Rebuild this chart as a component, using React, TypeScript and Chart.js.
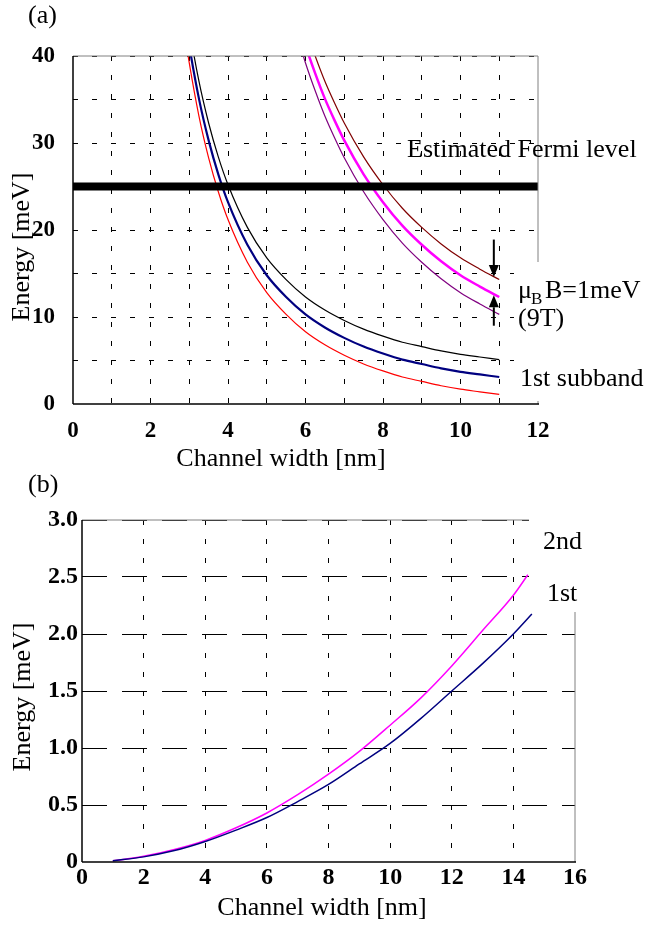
import React, { useEffect, useRef } from 'react';
import { Chart, registerables } from 'chart.js';

Chart.register(...registerables);

const SERIF = '"Liberation Serif", "Times New Roman", serif';

// ---------- Panel (a) data ----------
const widthA1 = [2.9, 3.0, 3.25, 3.5, 3.75, 4, 4.5, 5, 5.5, 6, 6.5, 7, 7.5, 8, 8.5, 9, 9.5, 10, 10.5, 11];
const firstRed = [42.1, 39.2, 33.1, 28.3, 24.4, 21.2, 16.3, 12.8, 10.3, 8.3, 6.8, 5.6, 4.6, 3.8, 3.1, 2.6, 2.1, 1.7, 1.4, 1.1];
const firstBlue = [44.1, 41.2, 35.1, 30.3, 26.4, 23.2, 18.3, 14.8, 12.3, 10.3, 8.8, 7.6, 6.6, 5.8, 5.1, 4.6, 4.1, 3.7, 3.4, 3.1];
const firstBlack = [46.1, 43.2, 37.1, 32.3, 28.4, 25.2, 20.3, 16.8, 14.3, 12.3, 10.8, 9.6, 8.6, 7.8, 7.1, 6.6, 6.1, 5.7, 5.4, 5.1];

const widthA2 = [5.8, 6.0, 6.25, 6.5, 6.75, 7, 7.5, 8, 8.5, 9, 9.5, 10, 10.5, 11];
const secondPurple = [42.1, 39.2, 36.0, 33.1, 30.6, 28.3, 24.4, 21.2, 18.5, 16.3, 14.4, 12.8, 11.5, 10.3];
const secondMagenta = [44.1, 41.2, 38.0, 35.1, 32.6, 30.3, 26.4, 23.2, 20.5, 18.3, 16.4, 14.8, 13.5, 12.3];
const secondBrown = [46.1, 43.2, 40.0, 37.1, 34.6, 32.3, 28.4, 25.2, 22.5, 20.3, 18.4, 16.8, 15.5, 14.3];

const fermiWidths = [0, 12];
const fermiLevel = [25, 25];

const xTickLabelsA = ['0', '', '2', '', '4', '', '6', '', '8', '', '10', '', '12'];
const yTickLabelsA = ['0', '', '10', '', '20', '', '30', '', '40'];

const arrowWidth = 10.86;
const arrowDown = [18.9, 14.6];
const arrowUp = [9.0, 12.5];

// ---------- Panel (b) data ----------
const widthB1 = [1, 2, 3, 4, 5, 6, 7, 8, 9, 10, 11, 12, 13, 14, 14.6];
const lowerBlue = [0.01, 0.045, 0.10, 0.18, 0.28, 0.39, 0.53, 0.68, 0.86, 1.04, 1.26, 1.50, 1.74, 2.00, 2.175];
const widthB2 = [1, 2, 3, 4, 5, 6, 7, 8, 9, 10, 11, 12, 13, 14, 14.47];
const upperMagenta = [0.01, 0.05, 0.11, 0.19, 0.30, 0.43, 0.59, 0.77, 0.97, 1.20, 1.44, 1.72, 2.03, 2.34, 2.52];

const xTickLabelsB = ['0', '2', '4', '6', '8', '10', '12', '14', '16'];
const yTickLabelsB = ['0', '0.5', '1.0', '1.5', '2.0', '2.5', '3.0'];

const zip = (xs: number[], ys: number[]) => xs.map((x, i) => ({ x, y: ys[i] }));

function line(ctx: CanvasRenderingContext2D, x1: number, y1: number, x2: number, y2: number) {
  ctx.beginPath();
  ctx.moveTo(x1, y1);
  ctx.lineTo(x2, y2);
  ctx.stroke();
}

function arrow(ctx: CanvasRenderingContext2D, x: number, yFrom: number, yTo: number) {
  const dir = yTo > yFrom ? 1 : -1;
  const headLen = 12;
  const halfW = 5;
  ctx.lineWidth = 2;
  line(ctx, x, yFrom, x, yTo - dir * headLen);
  ctx.beginPath();
  ctx.moveTo(x, yTo);
  ctx.lineTo(x - halfW, yTo - dir * headLen);
  ctx.lineTo(x + halfW, yTo - dir * headLen);
  ctx.closePath();
  ctx.fill();
}

const panelAOverlay = {
  id: 'panelAOverlay',
  afterDraw(chart: any) {
    const { ctx, chartArea: ca, scales } = chart;
    ctx.save();
    ctx.setLineDash([]);
    ctx.strokeStyle = '#808080';
    ctx.lineWidth = 1;
    line(ctx, ca.left, ca.top, ca.right, ca.top);
    line(ctx, ca.right, ca.top, ca.right, ca.bottom);
    ctx.strokeStyle = '#000';
    ctx.lineWidth = 1.5;
    line(ctx, ca.left, ca.top, ca.left, ca.bottom);
    line(ctx, ca.left, ca.bottom, ca.right + 1, ca.bottom);

    ctx.fillStyle = '#fff';
    ctx.fillRect(514, 262, 133, 139);

    ctx.fillStyle = '#000';
    ctx.textBaseline = 'alphabetic';
    ctx.textAlign = 'left';
    ctx.font = `26px ${SERIF}`;
    ctx.fillText('(a)', 28, 23);
    ctx.fillText('Estimated Fermi level', 407, 157);
    ctx.fillText('\u03bc', 518, 298);
    ctx.fillText('B=1meV', 545, 298);
    ctx.fillText('(9T)', 518, 326);
    ctx.fillText('1st subband', 520, 386);
    ctx.font = `17px ${SERIF}`;
    ctx.fillText('B', 531, 304);

    ctx.font = `26px ${SERIF}`;
    ctx.textAlign = 'center';
    ctx.textBaseline = 'middle';
    ctx.fillText('Channel width [nm]', 281, 459);
    ctx.save();
    ctx.translate(22, 247);
    ctx.rotate(-Math.PI / 2);
    ctx.fillText('Energy [meV]', 0, 0);
    ctx.restore();

    const ax = scales.x.getPixelForValue(arrowWidth);
    ctx.strokeStyle = '#000';
    arrow(ctx, ax, scales.y.getPixelForValue(arrowDown[0]), scales.y.getPixelForValue(arrowDown[1]));
    arrow(ctx, ax, scales.y.getPixelForValue(arrowUp[0]), scales.y.getPixelForValue(arrowUp[1]));
    ctx.restore();
  },
};

const panelBOverlay = {
  id: 'panelBOverlay',
  afterDraw(chart: any) {
    const { ctx, chartArea: ca } = chart;
    ctx.save();
    ctx.setLineDash([]);
    ctx.strokeStyle = '#808080';
    ctx.lineWidth = 1;
    line(ctx, ca.left, ca.top, ca.right, ca.top);
    line(ctx, ca.right, ca.top, ca.right, ca.bottom);
    ctx.strokeStyle = '#000';
    ctx.lineWidth = 1.5;
    line(ctx, ca.left, ca.top, ca.left, ca.bottom);
    line(ctx, ca.left, ca.bottom, ca.right + 1, ca.bottom);

    ctx.fillStyle = '#fff';
    ctx.fillRect(529, 28, 118, 114);

    ctx.fillStyle = '#000';
    ctx.textBaseline = 'alphabetic';
    ctx.textAlign = 'left';
    ctx.font = `26px ${SERIF}`;
    ctx.fillText('(b)', 28, 22);
    ctx.fillText('2nd', 543, 79);
    ctx.fillText('1st', 547, 131);

    ctx.textAlign = 'center';
    ctx.textBaseline = 'middle';
    ctx.fillText('Channel width [nm]', 322, 438);
    ctx.save();
    ctx.translate(23, 227);
    ctx.rotate(-Math.PI / 2);
    ctx.fillText('Energy [meV]', 0, 0);
    ctx.restore();
    ctx.restore();
  },
};

const tickFont = (size: number) => ({ family: SERIF, size, weight: 'bold' as const });

function lineDs(label: string, xs: number[], ys: number[], color: string, width: number, order: number) {
  return {
    label,
    data: zip(xs, ys),
    borderColor: color,
    backgroundColor: color,
    borderWidth: width,
    pointRadius: 0,
    fill: false,
    cubicInterpolationMode: 'monotone' as const,
    order,
  };
}

export default function App() {
  const refA = useRef<HTMLCanvasElement>(null);
  const refB = useRef<HTMLCanvasElement>(null);

  useEffect(() => {
    const chartA = new Chart(refA.current!, {
      type: 'line',
      data: {
        datasets: [
          { ...lineDs('Estimated Fermi level', fermiWidths, fermiLevel, '#000000', 8, 0), cubicInterpolationMode: 'default' as const },
          lineDs('1st subband (low)', widthA1, firstRed, '#ff0000', 1.2, 1),
          lineDs('1st subband', widthA1, firstBlue, '#000080', 2.2, 1),
          lineDs('1st subband (high)', widthA1, firstBlack, '#000000', 1.2, 1),
          lineDs('2nd subband (low)', widthA2, secondPurple, '#800080', 1.2, 1),
          lineDs('2nd subband', widthA2, secondMagenta, '#ff00ff', 2.5, 1),
          lineDs('2nd subband (high)', widthA2, secondBrown, '#800000', 1.2, 1),
        ],
      },
      options: {
        responsive: false,
        maintainAspectRatio: false,
        animation: false,
        layout: { padding: { top: 56, right: 109, left: 0, bottom: 0 } },
        plugins: { legend: { display: false }, tooltip: { enabled: false } },
        scales: {
          x: {
            type: 'linear',
            min: 0,
            max: 12,
            afterFit: (s: any) => { s.height = 66; },
            ticks: {
              stepSize: 1,
              autoSkip: false,
              maxRotation: 0,
              padding: 13,
              color: '#000',
              font: tickFont(23),
              callback: (_v: any, i: number) => xTickLabelsA[i],
            },
            grid: {
              drawTicks: false,
              lineWidth: 1,
              color: (c: any) => (c.tick && (c.tick.value === 0 || c.tick.value === 12) ? 'rgba(0,0,0,0)' : '#000'),
            },
            border: { display: false, dash: [5, 14] },
          },
          y: {
            type: 'linear',
            min: 0,
            max: 40,
            afterFit: (s: any) => { s.width = 73; },
            ticks: {
              stepSize: 5,
              autoSkip: false,
              padding: 18,
              color: '#000',
              font: tickFont(23),
              callback: (_v: any, i: number) => yTickLabelsA[i],
            },
            grid: {
              drawTicks: false,
              lineWidth: 1,
              color: (c: any) => (c.tick && c.tick.value === 0 ? 'rgba(0,0,0,0)' : '#000'),
            },
            border: { display: false, dash: [5, 14] },
          },
        },
      },
      plugins: [panelAOverlay],
    } as any);

    const chartB = new Chart(refB.current!, {
      type: 'line',
      data: {
        datasets: [
          lineDs('1st', widthB1, lowerBlue, '#000080', 1.5, 1),
          lineDs('2nd', widthB2, upperMagenta, '#ff00ff', 1.5, 1),
        ],
      },
      options: {
        responsive: false,
        maintainAspectRatio: false,
        animation: false,
        layout: { padding: { top: 50, right: 72, left: 0, bottom: 0 } },
        plugins: { legend: { display: false }, tooltip: { enabled: false } },
        scales: {
          x: {
            type: 'linear',
            min: 0,
            max: 16,
            afterFit: (s: any) => { s.height = 66; },
            ticks: {
              stepSize: 2,
              autoSkip: false,
              maxRotation: 0,
              padding: 1,
              color: '#000',
              font: tickFont(24),
              callback: (_v: any, i: number) => xTickLabelsB[i],
            },
            grid: {
              drawTicks: false,
              lineWidth: 1,
              color: (c: any) => (c.tick && (c.tick.value === 0 || c.tick.value === 16) ? 'rgba(0,0,0,0)' : '#000'),
            },
            border: { display: false, dash: [5, 14] },
          },
          y: {
            type: 'linear',
            min: 0,
            max: 3,
            afterFit: (s: any) => { s.width = 82; },
            ticks: {
              stepSize: 0.5,
              autoSkip: false,
              padding: 4,
              color: '#000',
              font: tickFont(24),
              callback: (_v: any, i: number) => yTickLabelsB[i],
            },
            grid: {
              drawTicks: false,
              lineWidth: 1,
              color: (c: any) => (c.tick && c.tick.value === 0 ? 'rgba(0,0,0,0)' : '#000'),
            },
            border: { display: false, dash: [25, 15] },
          },
        },
      },
      plugins: [panelBOverlay],
    } as any);

    return () => {
      chartA.destroy();
      chartB.destroy();
    };
  }, []);

  return (
    <div style={{ position: 'absolute', left: 0, top: 0, width: 647, height: 928, background: '#fff' }}>
      <canvas ref={refA} width={647} height={470} style={{ position: 'absolute', left: 0, top: 0, width: 647, height: 470 }} />
      <canvas ref={refB} width={647} height={458} style={{ position: 'absolute', left: 0, top: 470, width: 647, height: 458 }} />
    </div>
  );
}
